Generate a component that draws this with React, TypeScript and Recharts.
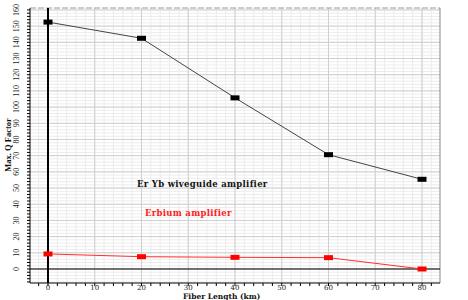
import React from "react";
import {
  ComposedChart,
  Line,
  XAxis,
  YAxis,
  ReferenceLine,
} from "recharts";

const fiberLength = [0, 20, 40, 60, 80];
const erYbQ = [152.5, 142.5, 105.7, 70.6, 55.4];
const erbiumQ = [9.3, 7.6, 7.2, 7.0, 0];

const xMajor = [0, 10, 20, 30, 40, 50, 60, 70, 80];
const yMajor = [0, 10, 20, 30, 40, 50, 60, 70, 80, 90, 100, 110, 120, 130, 140, 150, 160];

const data = fiberLength.map((x, i) => ({ x, eryb: erYbQ[i], er: erbiumQ[i] }));

// minor grid / tick positions (every 2 units)
const xMinor: number[] = [];
for (let v = -2; v <= 82; v += 2) xMinor.push(v);
const yMinor: number[] = [];
for (let v = -8; v <= 160; v += 2) yMinor.push(v);

const serif = "'DejaVu Serif', 'Liberation Serif', serif";

const Block = (color: string) => (props: any) => {
  const { cx, cy } = props;
  if (cx == null || cy == null) return null;
  return <rect x={cx - 4.5} y={cy - 2.5} width={9} height={5} fill={color} />;
};

const YTick = (props: any) => {
  const { x, y, payload } = props;
  const v = payload.value;
  if (v < 0 || v % 10 !== 0) return null;
  return (
    <text
      x={x - 6}
      y={y}
      transform={`rotate(-90, ${x - 6}, ${y})`}
      textAnchor="middle"
      fontSize={8}
      fontFamily="'Liberation Serif', serif"
      fill="#222"
    >
      {v}
    </text>
  );
};

const XTick = (props: any) => {
  const { x, y, payload } = props;
  const v = payload.value;
  if (v < 0 || v % 10 !== 0) return null;
  return (
    <text x={x} y={y + 2} textAnchor="middle" fontSize={7} fontFamily={serif} fill="#222">
      {v}
    </text>
  );
};

export default function App() {
  return (
    <div style={{ position: "absolute", left: 0, top: 0, width: 468, height: 300, background: "#fff" }}>
      <ComposedChart
        width={468}
        height={300}
        data={data}
        margin={{ top: 8, right: 28, left: 8, bottom: 0 }}
      >
        {yMinor.map((v) => (
          <ReferenceLine key={`ym${v}`} y={v} stroke="#ececec" strokeWidth={1} />
        ))}
        {xMinor.map((v) => (
          <ReferenceLine key={`xm${v}`} x={v} stroke="#ececec" strokeWidth={1} />
        ))}
        {yMajor.map((v) => (
          <ReferenceLine key={`yM${v}`} y={v} stroke="#cfcfcf" strokeWidth={1} />
        ))}
        {xMajor.map((v) => (
          <ReferenceLine key={`xM${v}`} x={v} stroke="#cfcfcf" strokeWidth={1} />
        ))}
        <ReferenceLine y={161.2} stroke="#999" strokeDasharray="6 2" />
        <ReferenceLine x={83.85} stroke="#888" />
        <ReferenceLine y={0} stroke="#000" strokeWidth={1} />
        <ReferenceLine x={0} stroke="#000" strokeWidth={2} />
        <XAxis
          dataKey="x"
          type="number"
          domain={[-3.85, 83.85]}
          ticks={xMinor}
          interval={0}
          height={17}
          stroke="#000"
          tickSize={3}
          tick={<XTick />}
          allowDataOverflow
        />
        <YAxis
          type="number"
          domain={[-8.65, 161.2]}
          ticks={yMinor}
          interval={0}
          width={22}
          stroke="#000"
          tickSize={3}
          tick={<YTick />}
          allowDataOverflow
        />
        <Line
          dataKey="eryb"
          stroke="#444"
          strokeWidth={1}
          dot={Block("#000")}
          activeDot={false}
          isAnimationActive={false}
        />
        <Line
          dataKey="er"
          stroke="#ff3030"
          strokeWidth={1}
          dot={Block("#ff0000")}
          activeDot={false}
          isAnimationActive={false}
        />
      </ComposedChart>
      <div
        style={{
          position: "absolute",
          left: 137,
          top: 179,
          fontFamily: serif,
          fontWeight: "bold",
          fontSize: 8.5,
          color: "#111",
          whiteSpace: "nowrap",
          letterSpacing: 0.3,
        }}
      >
        Er Yb wiveguide amplifier
      </div>
      <div
        style={{
          position: "absolute",
          left: 145,
          top: 208,
          fontFamily: serif,
          fontWeight: "bold",
          fontSize: 8.5,
          color: "#ff2020",
          whiteSpace: "nowrap",
          letterSpacing: 0.3,
        }}
      >
        Erbium amplifier
      </div>
      <div
        style={{
          position: "absolute",
          left: 183,
          top: 294,
          fontFamily: serif,
          fontWeight: "bold",
          fontSize: 7.5,
          lineHeight: "6px",
          color: "#111",
          whiteSpace: "nowrap",
        }}
      >
        Fiber Length (km)
      </div>
      <div
        style={{
          position: "absolute",
          left: 8,
          top: 145,
          transform: "translate(-50%, -50%) rotate(-90deg)",
          fontFamily: "'Liberation Serif', serif",
          fontWeight: "bold",
          fontSize: 8.5,
          color: "#111",
          whiteSpace: "nowrap",
        }}
      >
        Max. Q Factor
      </div>
    </div>
  );
}
